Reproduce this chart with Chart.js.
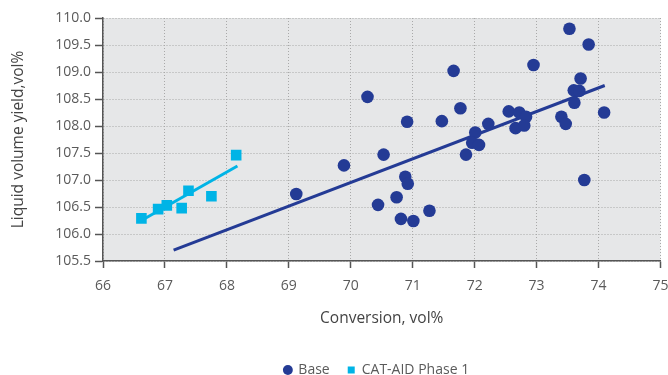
<!DOCTYPE html>
<html>
<head>
<meta charset="utf-8">
<script src="https://cdn.jsdelivr.net/npm/chart.js@4/dist/chart.umd.min.js"></script>
<style>
  html, body { margin: 0; padding: 0; background: #fff; }
  #wrap { width: 668px; height: 375px; }
</style>
</head>
<body>
<div id="wrap"><canvas id="myChart" width="668" height="375"></canvas></div>
<script>
// Base points (conversion, yield)
const baseX = [73.53, 73.84, 72.95, 71.66, 70.27, 73.71, 73.60, 73.69, 73.61, 74.09,
               71.77, 72.55, 72.72, 72.83, 73.40, 73.47, 70.91, 71.47, 72.22, 72.66,
               72.80, 72.01, 71.96, 72.07, 71.86, 70.53, 69.89, 70.88, 70.92, 73.77,
               70.74, 69.12, 70.44, 70.81, 71.01, 71.27];
const baseY = [109.80, 109.51, 109.13, 109.02, 108.54, 108.88, 108.66, 108.65, 108.43, 108.25,
               108.33, 108.27, 108.25, 108.17, 108.17, 108.04, 108.08, 108.09, 108.04, 107.96,
               108.01, 107.88, 107.69, 107.65, 107.47, 107.47, 107.27, 107.06, 106.93, 107.00,
               106.68, 106.74, 106.54, 106.28, 106.24, 106.43];

// CAT-AID Phase 1 points
const catX = [66.62, 66.89, 67.03, 67.27, 67.38, 67.75, 68.15];
const catY = [106.29, 106.46, 106.53, 106.48, 106.80, 106.70, 107.46];

// trend lines (end points)
const baseTrendX = [67.14, 74.10];
const baseTrendY = [105.70, 108.75];
const catTrendX = [66.62, 68.17];
const catTrendY = [106.25, 107.26];

const xTicks = [66, 67, 68, 69, 70, 71, 72, 73, 74, 75];
const yTicks = [105.5, 106.0, 106.5, 107.0, 107.5, 108.0, 108.5, 109.0, 109.5, 110.0];

const baseColor = '#243b95';
const catColor = '#00b4e6';
const textColor = '#5a5a5a';
const font = "'Open Sans', 'Noto Sans', sans-serif";

function toPoints(xs, ys) {
    return xs.map(function(x, i) { return {x: x, y: ys[i]}; });
}

// grey plot background
const plotBg = {
    id: 'plotBg',
    beforeDraw: function(chart) {
        const a = chart.chartArea;
        const ctx = chart.ctx;
        ctx.save();
        ctx.fillStyle = '#e6e7e8';
        ctx.fillRect(a.left, a.top, a.right - a.left, a.bottom - a.top);
        ctx.restore();
    }
};

// legend sits under the plot area, a bit lower than chart.js puts it
const moveLegend = {
    id: 'moveLegend',
    afterLayout: function(chart) {
        const lg = chart.legend;
        const a = chart.chartArea;
        lg.left = a.left - 5;
        lg.right = a.right - 5;
        lg.top += 12;
        lg.bottom += 12;
    }
};

new Chart('myChart', {
    type: 'scatter',
    data: {
        datasets: [
            {
                label: 'Base',
                data: toPoints(baseX, baseY),
                backgroundColor: baseColor,
                borderColor: baseColor,
                pointStyle: 'circle',
                pointRadius: 6.3,
                pointBorderWidth: 0,
                order: 1
            },
            {
                label: 'CAT-AID Phase 1',
                data: toPoints(catX, catY),
                backgroundColor: catColor,
                borderColor: catColor,
                pointStyle: 'rect',
                pointRadius: 7.5,
                pointBorderWidth: 0,
                order: 1
            },
            {
                label: 'baseTrend',
                type: 'line',
                data: toPoints(baseTrendX, baseTrendY),
                borderColor: baseColor,
                borderWidth: 3,
                pointRadius: 0,
                fill: false,
                order: 2
            },
            {
                label: 'catTrend',
                type: 'line',
                data: toPoints(catTrendX, catTrendY),
                borderColor: catColor,
                borderWidth: 3,
                pointRadius: 0,
                fill: false,
                order: 2
            }
        ]
    },
    options: {
        responsive: false,
        animation: false,
        layout: { padding: { left: 0, right: 7, top: 18, bottom: 0 } },
        plugins: {
            tooltip: { enabled: false },
            legend: {
                position: 'bottom',
                labels: {
                    filter: function(item) { return item.datasetIndex < 2; },
                    usePointStyle: true,
                    boxWidth: 7,
                    boxHeight: 7,
                    padding: 18,
                    color: textColor,
                    font: { family: font, size: 14 }
                }
            }
        },
        scales: {
            x: {
                type: 'linear',
                min: 66,
                max: 75,
                afterBuildTicks: function(axis) {
                    axis.ticks = xTicks.map(function(v) { return {value: v}; });
                },
                afterFit: function(axis) {
                    const legendH = axis.chart.legend ? axis.chart.legend.height : 0;
                    axis.height = axis.chart.height - 261 - legendH;
                    axis.paddingLeft = 0;
                    axis.paddingRight = 0;
                },
                grid: {
                    color: '#a9a9a9',
                    drawTicks: true,
                    tickLength: 7,
                    tickColor: '#555555',
                    tickWidth: 1.5
                },
                border: { display: true, color: '#555555', width: 1.5, dash: [1, 2] },
                ticks: {
                    color: textColor,
                    padding: 10,
                    font: { family: font, size: 14 },
                    maxRotation: 0
                },
                title: {
                    display: true,
                    text: 'Conversion, vol%',
                    color: '#444444',
                    font: { family: font, size: 15.5 },
                    padding: { top: 0, bottom: 5 }
                }
            },
            y: {
                type: 'linear',
                min: 105.5,
                max: 110,
                afterBuildTicks: function(axis) {
                    axis.ticks = yTicks.map(function(v) { return {value: v}; });
                },
                afterFit: function(axis) {
                    axis.width = 103;
                    axis.paddingTop = 0;
                    axis.paddingBottom = 0;
                },
                grid: {
                    color: '#a9a9a9',
                    drawTicks: true,
                    tickLength: 8,
                    tickColor: '#555555',
                    tickWidth: 1.5
                },
                border: { display: true, color: '#555555', width: 1.5, dash: [1, 2] },
                ticks: {
                    color: textColor,
                    padding: 4,
                    font: { family: font, size: 14 },
                    callback: function(v) { return Number(v).toFixed(1); }
                },
                title: {
                    display: true,
                    text: 'Liquid volume yield,vol%',
                    color: '#444444',
                    font: { family: font, size: 15.5 },
                    padding: { top: 9, bottom: 0 }
                }
            }
        }
    },
    plugins: [plotBg, moveLegend]
});
</script>
</body>
</html>
